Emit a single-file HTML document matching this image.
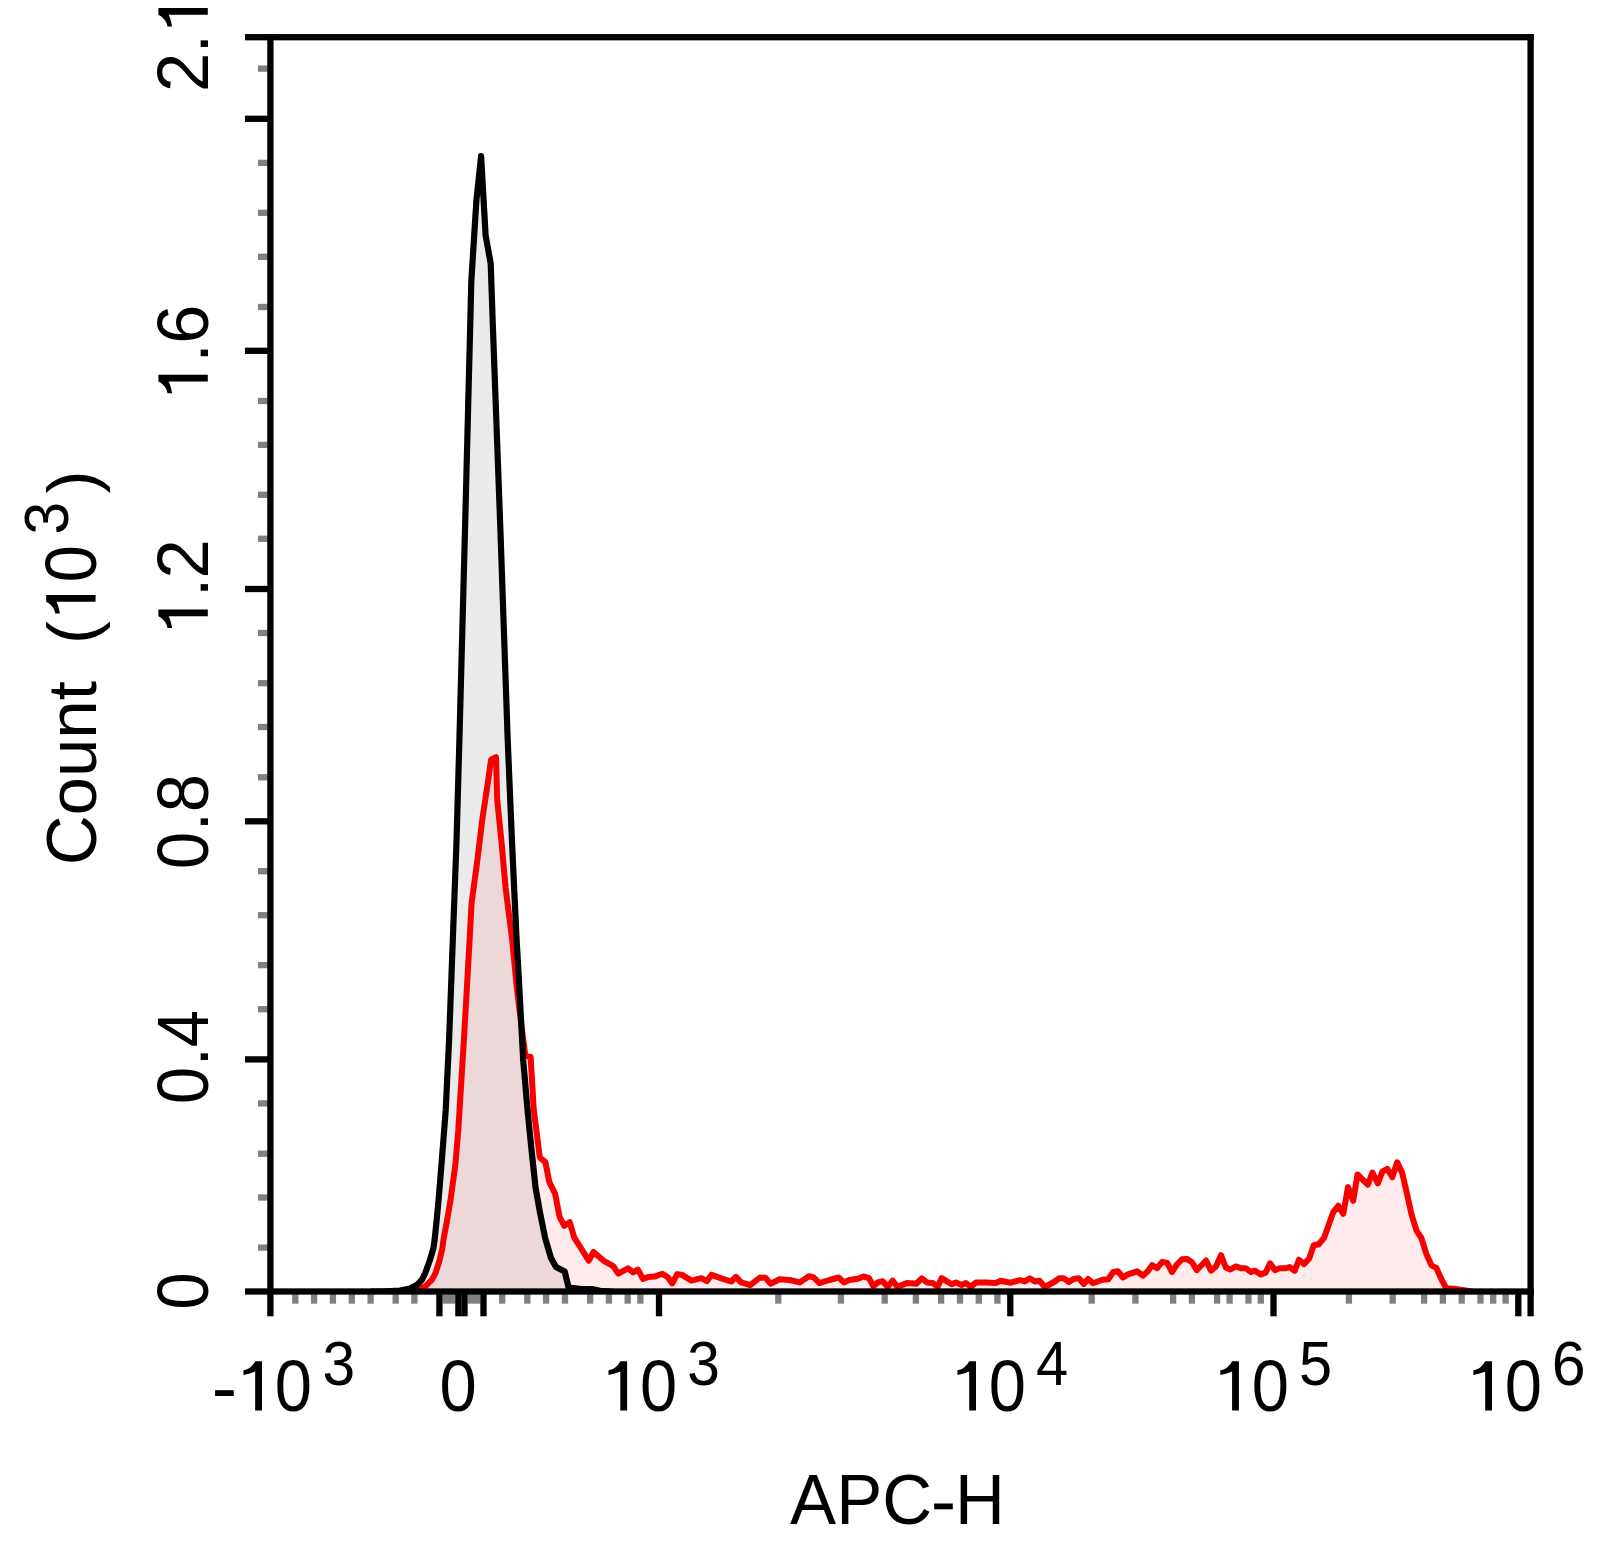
<!DOCTYPE html>
<html><head><meta charset="utf-8"><title>APC-H histogram</title>
<style>
html,body{margin:0;padding:0;background:#fff;}
body{width:1612px;height:1554px;position:relative;overflow:hidden;font-family:"Liberation Sans",sans-serif;}
</style></head><body>
<svg width="1612" height="1554" viewBox="0 0 1612 1554" style="position:absolute;left:0;top:0">
<rect width="1612" height="1554" fill="#fff"/>
<clipPath id="pc"><rect x="270.4" y="37.2" width="1260.1999999999998" height="1254.3"/></clipPath><g clip-path="url(#pc)">
<polygon points="372.0,1291.5 385.0,1291.3 400.0,1290.6 410.0,1288.5 417.4,1284.6 422.0,1279.6 425.1,1273.4 429.6,1261.0 433.4,1248.6 434.6,1240.0 436.5,1222.0 438.5,1200.8 441.4,1165.4 444.2,1130.0 445.7,1110.0 449.1,1040.0 452.8,940.0 456.5,842.0 459.4,740.0 465.0,530.0 470.1,330.0 471.3,281.6 476.4,200.5 481.1,156.1 485.6,235.2 490.7,263.6 493.0,330.0 500.4,530.0 507.7,740.0 512.0,842.0 516.6,940.0 517.8,960.0 523.2,1060.0 527.5,1109.6 531.4,1148.6 535.5,1187.2 540.1,1213.0 545.3,1238.7 551.0,1258.0 556.0,1267.0 564.7,1271.5 568.6,1287.6 580.0,1288.8 593.0,1289.2 600.0,1290.8 612.0,1291.5" fill="#000" fill-opacity="0.08"/>
<polygon points="408.0,1291.5 415.0,1290.8 419.6,1289.8 425.8,1285.8 432.0,1279.6 435.4,1273.4 439.4,1261.0 442.3,1248.6 443.4,1240.0 446.8,1222.0 450.4,1200.8 455.3,1165.4 458.3,1130.0 463.9,1040.0 469.6,940.0 471.6,902.8 477.4,860.0 482.4,818.5 486.9,789.0 491.1,759.6 496.0,757.1 497.2,799.6 501.6,843.0 505.6,887.8 512.2,940.0 516.5,985.0 521.0,1022.0 525.4,1056.0 530.6,1056.8 533.8,1110.0 537.1,1135.7 539.8,1157.5 545.4,1162.1 549.3,1182.1 555.1,1193.7 559.6,1216.8 564.3,1225.9 569.7,1222.2 574.3,1237.7 588.8,1260.6 593.5,1252.0 603.4,1260.6 613.3,1266.2 618.3,1273.7 628.0,1268.3 633.2,1272.4 637.9,1269.6 643.1,1279.0 648.1,1276.9 654.3,1276.6 662.4,1273.7 667.9,1277.2 672.3,1283.4 677.2,1274.1 681.6,1274.7 691.5,1280.6 701.4,1278.2 706.8,1281.1 711.6,1274.9 721.3,1278.4 731.2,1281.5 735.9,1276.9 741.1,1282.4 750.2,1285.2 759.9,1277.5 765.4,1277.7 770.4,1283.7 779.7,1279.3 789.6,1280.0 799.6,1282.4 808.9,1276.2 813.8,1277.5 819.4,1283.1 829.3,1280.0 838.6,1277.5 844.2,1282.4 849.2,1280.0 857.9,1278.7 863.4,1276.5 869.0,1278.1 873.4,1286.2 877.7,1282.4 882.7,1281.2 887.6,1286.8 892.6,1280.6 897.6,1286.8 906.9,1283.1 916.2,1283.7 921.8,1278.4 927.0,1282.4 932.6,1282.9 937.6,1286.6 941.7,1278.1 951.6,1284.3 956.0,1282.4 961.6,1284.9 965.9,1283.1 970.9,1286.8 975.8,1282.4 985.8,1282.4 995.7,1283.1 1000.6,1280.8 1010.6,1282.7 1019.9,1280.2 1024.8,1281.4 1029.8,1278.3 1034.8,1281.4 1039.7,1280.8 1044.7,1287.0 1054.0,1282.0 1059.0,1278.3 1063.9,1278.3 1068.9,1282.0 1073.8,1278.9 1078.8,1278.3 1083.8,1283.9 1088.1,1278.9 1093.1,1283.3 1102.4,1279.8 1108.3,1279.2 1113.2,1272.0 1118.0,1271.3 1123.0,1277.5 1127.9,1274.4 1137.2,1271.3 1142.8,1275.7 1147.8,1271.3 1152.1,1265.1 1157.1,1268.2 1162.0,1262.0 1167.0,1262.7 1172.0,1272.0 1176.9,1264.5 1181.9,1259.3 1186.8,1258.9 1191.8,1262.0 1196.8,1270.1 1206.1,1260.5 1211.0,1270.7 1216.0,1266.4 1221.0,1255.2 1225.9,1267.6 1230.3,1269.5 1235.9,1266.4 1240.8,1268.2 1245.8,1268.2 1250.7,1272.0 1255.1,1270.7 1260.7,1274.4 1265.6,1272.6 1270.0,1263.3 1274.9,1270.1 1279.9,1268.3 1285.0,1268.3 1289.7,1267.1 1294.7,1270.8 1298.9,1259.7 1304.2,1264.1 1309.2,1258.5 1313.7,1245.2 1318.7,1244.2 1324.0,1238.0 1328.8,1224.4 1333.3,1212.0 1338.3,1205.8 1343.3,1213.8 1348.0,1187.1 1353.2,1200.8 1357.5,1174.5 1367.8,1184.7 1372.4,1172.5 1377.8,1183.4 1382.4,1171.6 1387.3,1168.8 1392.3,1177.2 1397.2,1162.3 1402.2,1172.9 1407.2,1194.6 1411.5,1214.4 1416.5,1230.6 1421.4,1238.0 1426.4,1254.1 1431.4,1265.3 1436.3,1267.8 1441.3,1279.0 1446.3,1288.3 1454.0,1288.8 1464.0,1290.2 1472.0,1291.5" fill="#ff0000" fill-opacity="0.08"/>
<polyline points="408.0,1291.5 415.0,1290.8 419.6,1289.8 425.8,1285.8 432.0,1279.6 435.4,1273.4 439.4,1261.0 442.3,1248.6 443.4,1240.0 446.8,1222.0 450.4,1200.8 455.3,1165.4 458.3,1130.0 463.9,1040.0 469.6,940.0 471.6,902.8 477.4,860.0 482.4,818.5 486.9,789.0 491.1,759.6 496.0,757.1 497.2,799.6 501.6,843.0 505.6,887.8 512.2,940.0 516.5,985.0 521.0,1022.0 525.4,1056.0 530.6,1056.8 533.8,1110.0 537.1,1135.7 539.8,1157.5 545.4,1162.1 549.3,1182.1 555.1,1193.7 559.6,1216.8 564.3,1225.9 569.7,1222.2 574.3,1237.7 588.8,1260.6 593.5,1252.0 603.4,1260.6 613.3,1266.2 618.3,1273.7 628.0,1268.3 633.2,1272.4 637.9,1269.6 643.1,1279.0 648.1,1276.9 654.3,1276.6 662.4,1273.7 667.9,1277.2 672.3,1283.4 677.2,1274.1 681.6,1274.7 691.5,1280.6 701.4,1278.2 706.8,1281.1 711.6,1274.9 721.3,1278.4 731.2,1281.5 735.9,1276.9 741.1,1282.4 750.2,1285.2 759.9,1277.5 765.4,1277.7 770.4,1283.7 779.7,1279.3 789.6,1280.0 799.6,1282.4 808.9,1276.2 813.8,1277.5 819.4,1283.1 829.3,1280.0 838.6,1277.5 844.2,1282.4 849.2,1280.0 857.9,1278.7 863.4,1276.5 869.0,1278.1 873.4,1286.2 877.7,1282.4 882.7,1281.2 887.6,1286.8 892.6,1280.6 897.6,1286.8 906.9,1283.1 916.2,1283.7 921.8,1278.4 927.0,1282.4 932.6,1282.9 937.6,1286.6 941.7,1278.1 951.6,1284.3 956.0,1282.4 961.6,1284.9 965.9,1283.1 970.9,1286.8 975.8,1282.4 985.8,1282.4 995.7,1283.1 1000.6,1280.8 1010.6,1282.7 1019.9,1280.2 1024.8,1281.4 1029.8,1278.3 1034.8,1281.4 1039.7,1280.8 1044.7,1287.0 1054.0,1282.0 1059.0,1278.3 1063.9,1278.3 1068.9,1282.0 1073.8,1278.9 1078.8,1278.3 1083.8,1283.9 1088.1,1278.9 1093.1,1283.3 1102.4,1279.8 1108.3,1279.2 1113.2,1272.0 1118.0,1271.3 1123.0,1277.5 1127.9,1274.4 1137.2,1271.3 1142.8,1275.7 1147.8,1271.3 1152.1,1265.1 1157.1,1268.2 1162.0,1262.0 1167.0,1262.7 1172.0,1272.0 1176.9,1264.5 1181.9,1259.3 1186.8,1258.9 1191.8,1262.0 1196.8,1270.1 1206.1,1260.5 1211.0,1270.7 1216.0,1266.4 1221.0,1255.2 1225.9,1267.6 1230.3,1269.5 1235.9,1266.4 1240.8,1268.2 1245.8,1268.2 1250.7,1272.0 1255.1,1270.7 1260.7,1274.4 1265.6,1272.6 1270.0,1263.3 1274.9,1270.1 1279.9,1268.3 1285.0,1268.3 1289.7,1267.1 1294.7,1270.8 1298.9,1259.7 1304.2,1264.1 1309.2,1258.5 1313.7,1245.2 1318.7,1244.2 1324.0,1238.0 1328.8,1224.4 1333.3,1212.0 1338.3,1205.8 1343.3,1213.8 1348.0,1187.1 1353.2,1200.8 1357.5,1174.5 1367.8,1184.7 1372.4,1172.5 1377.8,1183.4 1382.4,1171.6 1387.3,1168.8 1392.3,1177.2 1397.2,1162.3 1402.2,1172.9 1407.2,1194.6 1411.5,1214.4 1416.5,1230.6 1421.4,1238.0 1426.4,1254.1 1431.4,1265.3 1436.3,1267.8 1441.3,1279.0 1446.3,1288.3 1454.0,1288.8 1464.0,1290.2 1472.0,1291.5" fill="none" stroke="#f60000" stroke-width="6.0" stroke-linejoin="round" stroke-linecap="round"/>
<polyline points="372.0,1291.5 385.0,1291.3 400.0,1290.6 410.0,1288.5 417.4,1284.6 422.0,1279.6 425.1,1273.4 429.6,1261.0 433.4,1248.6 434.6,1240.0 436.5,1222.0 438.5,1200.8 441.4,1165.4 444.2,1130.0 445.7,1110.0 449.1,1040.0 452.8,940.0 456.5,842.0 459.4,740.0 465.0,530.0 470.1,330.0 471.3,281.6 476.4,200.5 481.1,156.1 485.6,235.2 490.7,263.6 493.0,330.0 500.4,530.0 507.7,740.0 512.0,842.0 516.6,940.0 517.8,960.0 523.2,1060.0 527.5,1109.6 531.4,1148.6 535.5,1187.2 540.1,1213.0 545.3,1238.7 551.0,1258.0 556.0,1267.0 564.7,1271.5 568.6,1287.6 580.0,1288.8 593.0,1289.2 600.0,1290.8 612.0,1291.5" fill="none" stroke="#000" stroke-width="6.2" stroke-linejoin="round" stroke-linecap="round"/>
</g>
<rect x="258" y="65.45" width="9.75" height="6.3" fill="#808080"/>
<rect x="258" y="159.75" width="9.75" height="6.3" fill="#808080"/>
<rect x="258" y="209.65" width="9.75" height="6.3" fill="#808080"/>
<rect x="258" y="253.65" width="9.75" height="6.3" fill="#808080"/>
<rect x="258" y="303.85" width="9.75" height="6.3" fill="#808080"/>
<rect x="258" y="397.85" width="9.75" height="6.3" fill="#808080"/>
<rect x="258" y="441.75" width="9.75" height="6.3" fill="#808080"/>
<rect x="258" y="491.65" width="9.75" height="6.3" fill="#808080"/>
<rect x="258" y="535.65" width="9.75" height="6.3" fill="#808080"/>
<rect x="258" y="629.85" width="9.75" height="6.3" fill="#808080"/>
<rect x="258" y="680.05" width="9.75" height="6.3" fill="#808080"/>
<rect x="258" y="723.85" width="9.75" height="6.3" fill="#808080"/>
<rect x="258" y="774.15" width="9.75" height="6.3" fill="#808080"/>
<rect x="258" y="868.05" width="9.75" height="6.3" fill="#808080"/>
<rect x="258" y="912.05" width="9.75" height="6.3" fill="#808080"/>
<rect x="258" y="961.95" width="9.75" height="6.3" fill="#808080"/>
<rect x="258" y="1006.05" width="9.75" height="6.3" fill="#808080"/>
<rect x="258" y="1100.25" width="9.75" height="6.3" fill="#808080"/>
<rect x="258" y="1150.55" width="9.75" height="6.3" fill="#808080"/>
<rect x="258" y="1194.35" width="9.75" height="6.3" fill="#808080"/>
<rect x="258" y="1244.45" width="9.75" height="6.3" fill="#808080"/>
<rect x="292.15" y="1294.15" width="6.3" height="9.55" fill="#808080"/>
<rect x="310.95" y="1294.15" width="6.3" height="9.55" fill="#808080"/>
<rect x="329.75" y="1294.15" width="6.3" height="9.55" fill="#808080"/>
<rect x="348.65" y="1294.15" width="6.3" height="9.55" fill="#808080"/>
<rect x="367.45" y="1294.15" width="6.3" height="9.55" fill="#808080"/>
<rect x="392.55" y="1294.15" width="6.3" height="9.55" fill="#808080"/>
<rect x="411.25" y="1294.15" width="6.3" height="9.55" fill="#808080"/>
<rect x="499.05" y="1294.15" width="6.3" height="9.55" fill="#808080"/>
<rect x="524.15" y="1294.15" width="6.3" height="9.55" fill="#808080"/>
<rect x="542.95" y="1294.15" width="6.3" height="9.55" fill="#808080"/>
<rect x="561.85" y="1294.15" width="6.3" height="9.55" fill="#808080"/>
<rect x="586.95" y="1294.15" width="6.3" height="9.55" fill="#808080"/>
<rect x="605.75" y="1294.15" width="6.3" height="9.55" fill="#808080"/>
<rect x="624.55" y="1294.15" width="6.3" height="9.55" fill="#808080"/>
<rect x="637.25" y="1294.15" width="6.3" height="9.55" fill="#808080"/>
<rect x="775.15" y="1294.15" width="6.3" height="9.55" fill="#808080"/>
<rect x="837.75" y="1294.15" width="6.3" height="9.55" fill="#808080"/>
<rect x="881.55" y="1294.15" width="6.3" height="9.55" fill="#808080"/>
<rect x="912.75" y="1294.15" width="6.3" height="9.55" fill="#808080"/>
<rect x="937.95" y="1294.15" width="6.3" height="9.55" fill="#808080"/>
<rect x="956.85" y="1294.15" width="6.3" height="9.55" fill="#808080"/>
<rect x="975.65" y="1294.15" width="6.3" height="9.55" fill="#808080"/>
<rect x="994.25" y="1294.15" width="6.3" height="9.55" fill="#808080"/>
<rect x="1088.55" y="1294.15" width="6.3" height="9.55" fill="#808080"/>
<rect x="1132.25" y="1294.15" width="6.3" height="9.55" fill="#808080"/>
<rect x="1169.95" y="1294.15" width="6.3" height="9.55" fill="#808080"/>
<rect x="1188.75" y="1294.15" width="6.3" height="9.55" fill="#808080"/>
<rect x="1213.95" y="1294.15" width="6.3" height="9.55" fill="#808080"/>
<rect x="1226.45" y="1294.15" width="6.3" height="9.55" fill="#808080"/>
<rect x="1245.35" y="1294.15" width="6.3" height="9.55" fill="#808080"/>
<rect x="1257.65" y="1294.15" width="6.3" height="9.55" fill="#808080"/>
<rect x="1345.75" y="1294.15" width="6.3" height="9.55" fill="#808080"/>
<rect x="1389.55" y="1294.15" width="6.3" height="9.55" fill="#808080"/>
<rect x="1420.95" y="1294.15" width="6.3" height="9.55" fill="#808080"/>
<rect x="1439.75" y="1294.15" width="6.3" height="9.55" fill="#808080"/>
<rect x="1458.55" y="1294.15" width="6.3" height="9.55" fill="#808080"/>
<rect x="1477.35" y="1294.15" width="6.3" height="9.55" fill="#808080"/>
<rect x="1490.05" y="1294.15" width="6.3" height="9.55" fill="#808080"/>
<rect x="1502.45" y="1294.15" width="6.3" height="9.55" fill="#808080"/>
<rect x="442.40" y="1294.15" width="13.00" height="9.55" fill="#808080"/>
<rect x="467.50" y="1294.15" width="13.00" height="9.55" fill="#808080"/>
<rect x="245" y="115.65" width="25.40" height="6.3" fill="#000"/>
<rect x="245" y="347.65" width="25.40" height="6.3" fill="#000"/>
<rect x="245" y="585.85" width="25.40" height="6.3" fill="#000"/>
<rect x="245" y="818.15" width="25.40" height="6.3" fill="#000"/>
<rect x="245" y="1056.25" width="25.40" height="6.3" fill="#000"/>
<rect x="267.25" y="1291.50" width="6.3" height="24.80" fill="#000"/>
<rect x="436.25" y="1291.50" width="6.3" height="24.80" fill="#000"/>
<rect x="455.25" y="1291.50" width="6.3" height="24.80" fill="#000"/>
<rect x="461.35" y="1291.50" width="6.3" height="24.80" fill="#000"/>
<rect x="480.35" y="1291.50" width="6.3" height="24.80" fill="#000"/>
<rect x="655.85" y="1291.50" width="6.3" height="24.80" fill="#000"/>
<rect x="1007.15" y="1291.50" width="6.3" height="24.80" fill="#000"/>
<rect x="1270.35" y="1291.50" width="6.3" height="24.80" fill="#000"/>
<rect x="1515.15" y="1291.50" width="6.3" height="24.80" fill="#000"/>
<rect x="1527.45" y="1291.50" width="6.3" height="24.80" fill="#000"/>
<rect x="245" y="34.05" width="1288.75" height="6.3" fill="#000"/>
<rect x="245" y="1288.35" width="1288.75" height="6.3" fill="#000"/>
<rect x="267.25" y="34.05" width="6.3" height="1260.60" fill="#000"/>
<rect x="1527.45" y="34.05" width="6.3" height="1260.60" fill="#000"/>
<g transform="translate(212.90,1410.60)" font-family="Liberation Sans, sans-serif" font-size="69.0" fill="#000"><rect x="2.19" y="-20.40" width="18.63" height="5.80"/><path d="M26.1 0L19.3 0L19.3 39.1L16.8 38.0L12.9 36.8L7.5 35.7L7.5 40.3L10.6 41.1Q13.0 42.2 14.5 43.4Q16.4 45.0 17.6 46.5L19.3 49.4L26.1 49.4Z" transform="translate(22.98,0) scale(1.0000,-1.0000)"/><text x="-19.19" y="0" transform="translate(80.54,0.6) scale(0.97,1.045)">0</text></g>
<g transform="translate(322.30,1384.60)" font-family="Liberation Sans, sans-serif" font-size="59.6" fill="#000"><text x="-16.57" y="0" transform="translate(16.57,0.0) scale(0.985,1.045)">3</text></g>
<g transform="translate(438.90,1410.60)" font-family="Liberation Sans, sans-serif" font-size="69.0" fill="#000"><text x="-19.19" y="0" transform="translate(19.19,0.6) scale(0.97,1.045)">0</text></g>
<g transform="translate(601.00,1410.60)" font-family="Liberation Sans, sans-serif" font-size="69.0" fill="#000"><path d="M26.1 0L19.3 0L19.3 39.1L16.8 38.0L12.9 36.8L7.5 35.7L7.5 40.3L10.6 41.1Q13.0 42.2 14.5 43.4Q16.4 45.0 17.6 46.5L19.3 49.4L26.1 49.4Z" transform="translate(0.00,0) scale(1.0000,-1.0000)"/><text x="-19.19" y="0" transform="translate(57.56,0.6) scale(0.97,1.045)">0</text></g>
<g transform="translate(687.10,1384.60)" font-family="Liberation Sans, sans-serif" font-size="59.6" fill="#000"><text x="-16.57" y="0" transform="translate(16.57,0.0) scale(0.985,1.045)">3</text></g>
<g transform="translate(949.90,1410.60)" font-family="Liberation Sans, sans-serif" font-size="69.0" fill="#000"><path d="M26.1 0L19.3 0L19.3 39.1L16.8 38.0L12.9 36.8L7.5 35.7L7.5 40.3L10.6 41.1Q13.0 42.2 14.5 43.4Q16.4 45.0 17.6 46.5L19.3 49.4L26.1 49.4Z" transform="translate(0.00,0) scale(1.0000,-1.0000)"/><text x="-19.19" y="0" transform="translate(57.56,0.6) scale(0.97,1.045)">0</text></g>
<g transform="translate(1036.00,1384.60)" font-family="Liberation Sans, sans-serif" font-size="59.6" fill="#000"><text x="-16.57" y="0" transform="translate(15.97,0.0) scale(0.97,1.045)">4</text></g>
<g transform="translate(1212.80,1410.60)" font-family="Liberation Sans, sans-serif" font-size="69.0" fill="#000"><path d="M26.1 0L19.3 0L19.3 39.1L16.8 38.0L12.9 36.8L7.5 35.7L7.5 40.3L10.6 41.1Q13.0 42.2 14.5 43.4Q16.4 45.0 17.6 46.5L19.3 49.4L26.1 49.4Z" transform="translate(0.00,0) scale(1.0000,-1.0000)"/><text x="-19.19" y="0" transform="translate(57.56,0.6) scale(0.97,1.045)">0</text></g>
<g transform="translate(1298.90,1384.60)" font-family="Liberation Sans, sans-serif" font-size="59.6" fill="#000"><text x="-16.57" y="0" transform="translate(16.57,0.0) scale(1.0,1.045)">5</text></g>
<g transform="translate(1465.90,1410.60)" font-family="Liberation Sans, sans-serif" font-size="69.0" fill="#000"><path d="M26.1 0L19.3 0L19.3 39.1L16.8 38.0L12.9 36.8L7.5 35.7L7.5 40.3L10.6 41.1Q13.0 42.2 14.5 43.4Q16.4 45.0 17.6 46.5L19.3 49.4L26.1 49.4Z" transform="translate(0.00,0) scale(1.0000,-1.0000)"/><text x="-19.19" y="0" transform="translate(57.56,0.6) scale(0.97,1.045)">0</text></g>
<g transform="translate(1552.00,1384.60)" font-family="Liberation Sans, sans-serif" font-size="59.6" fill="#000"><text x="-16.57" y="0" transform="translate(16.57,0.0) scale(1.02,1.045)">6</text></g>
<g transform="translate(790.10,1523.90)" font-family="Liberation Sans, sans-serif" font-size="69.0" fill="#000"><text x="-23.01" y="0" transform="translate(23.01,0.0) scale(1.0,1.03)">A</text><text x="-23.01" y="0" transform="translate(69.03,0.0) scale(1.0,1.03)">P</text><text x="-24.91" y="0" transform="translate(116.96,0.0) scale(1.0,1.03)">C</text><rect x="144.06" y="-20.40" width="18.63" height="5.80"/><text x="-24.91" y="0" transform="translate(189.77,0.0) scale(1.0,1.03)">H</text></g>
<g transform="translate(207.80,1310.20) rotate(-90)" font-family="Liberation Sans, sans-serif" font-size="69.0" fill="#000"><text x="-19.19" y="0" transform="translate(19.19,0.6) scale(0.97,1.045)">0</text></g>
<g transform="translate(207.80,1104.70) rotate(-90)" font-family="Liberation Sans, sans-serif" font-size="69.0" fill="#000"><text x="-19.19" y="0" transform="translate(19.19,0.6) scale(0.97,1.045)">0</text><text x="-9.59" y="0" transform="translate(47.96,0.0) scale(1.0,1.0)">.</text><text x="-19.19" y="0" transform="translate(76.03,0.6) scale(0.97,1.045)">4</text></g>
<g transform="translate(207.80,869.70) rotate(-90)" font-family="Liberation Sans, sans-serif" font-size="69.0" fill="#000"><text x="-19.19" y="0" transform="translate(19.19,0.6) scale(0.97,1.045)">0</text><text x="-9.59" y="0" transform="translate(47.96,0.0) scale(1.0,1.0)">.</text><text x="-19.19" y="0" transform="translate(76.73,0.6) scale(1.0,1.045)">8</text></g>
<g transform="translate(207.80,635.50) rotate(-90)" font-family="Liberation Sans, sans-serif" font-size="69.0" fill="#000"><path d="M26.1 0L19.3 0L19.3 39.1L16.8 38.0L12.9 36.8L7.5 35.7L7.5 40.3L10.6 41.1Q13.0 42.2 14.5 43.4Q16.4 45.0 17.6 46.5L19.3 49.4L26.1 49.4Z" transform="translate(0.00,0) scale(1.0000,-1.0000)"/><text x="-9.59" y="0" transform="translate(47.96,0.0) scale(1.0,1.0)">.</text><text x="-19.19" y="0" transform="translate(76.73,0.6) scale(1.025,1.045)">2</text></g>
<g transform="translate(207.80,400.80) rotate(-90)" font-family="Liberation Sans, sans-serif" font-size="69.0" fill="#000"><path d="M26.1 0L19.3 0L19.3 39.1L16.8 38.0L12.9 36.8L7.5 35.7L7.5 40.3L10.6 41.1Q13.0 42.2 14.5 43.4Q16.4 45.0 17.6 46.5L19.3 49.4L26.1 49.4Z" transform="translate(0.00,0) scale(1.0000,-1.0000)"/><text x="-9.59" y="0" transform="translate(47.96,0.0) scale(1.0,1.0)">.</text><text x="-19.19" y="0" transform="translate(76.73,0.6) scale(1.02,1.045)">6</text></g>
<g transform="translate(207.80,91.60) rotate(-90)" font-family="Liberation Sans, sans-serif" font-size="69.0" fill="#000"><text x="-19.19" y="0" transform="translate(19.19,0.6) scale(1.025,1.045)">2</text><text x="-9.59" y="0" transform="translate(47.96,0.0) scale(1.0,1.0)">.</text><path d="M26.1 0L19.3 0L19.3 39.1L16.8 38.0L12.9 36.8L7.5 35.7L7.5 40.3L10.6 41.1Q13.0 42.2 14.5 43.4Q16.4 45.0 17.6 46.5L19.3 49.4L26.1 49.4Z" transform="translate(57.54,0) scale(1.0000,-1.0000)"/></g>
<g transform="translate(95.60,865.30) rotate(-90)" font-family="Liberation Sans, sans-serif" font-size="69.0" fill="#000"><text x="-24.91" y="0" transform="translate(24.91,0.0) scale(1.0,1.03)">C</text><text x="-19.19" y="0" transform="translate(69.02,0.0) scale(1.0,0.985)">o</text><text x="-19.19" y="0" transform="translate(107.39,0.0) scale(1.0,0.985)">u</text><text x="-19.19" y="0" transform="translate(145.77,0.0) scale(1.0,0.985)">n</text><text x="-9.59" y="0" transform="translate(174.54,0.0) scale(1.0,1.0)">t</text></g>
<g transform="translate(95.60,644.10) rotate(-90)" font-family="Liberation Sans, sans-serif" font-size="69.0" fill="#000"><text x="-11.49" y="0" transform="translate(11.49,0.0) scale(1.0,1.0)">(</text><path d="M26.1 0L19.3 0L19.3 39.1L16.8 38.0L12.9 36.8L7.5 35.7L7.5 40.3L10.6 41.1Q13.0 42.2 14.5 43.4Q16.4 45.0 17.6 46.5L19.3 49.4L26.1 49.4Z" transform="translate(22.98,0) scale(1.0000,-1.0000)"/><text x="-19.19" y="0" transform="translate(80.54,0.6) scale(0.97,1.045)">0</text></g>
<g transform="translate(68.40,534.80) rotate(-90)" font-family="Liberation Sans, sans-serif" font-size="59.6" fill="#000"><text x="-16.57" y="0" transform="translate(16.57,0.0) scale(0.985,1.045)">3</text></g>
<g transform="translate(95.60,493.40) rotate(-90)" font-family="Liberation Sans, sans-serif" font-size="69.0" fill="#000"><text x="-11.49" y="0" transform="translate(11.49,0.0) scale(1.0,1.0)">)</text></g>
</svg>
</body></html>
